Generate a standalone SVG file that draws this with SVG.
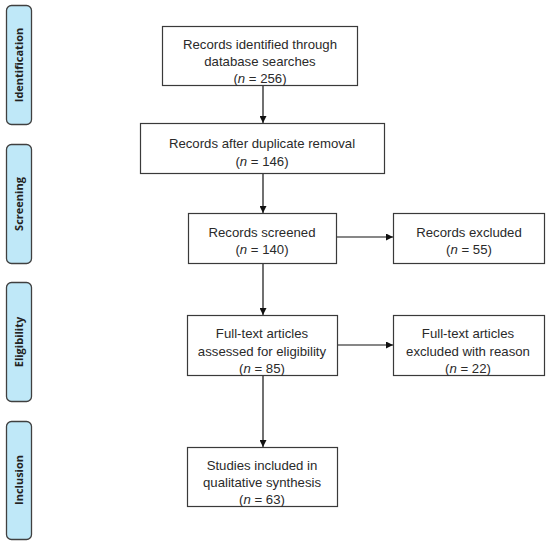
<svg xmlns="http://www.w3.org/2000/svg" width="550" height="547" viewBox="0 0 550 547">
<defs>
<style>
.box{fill:#fff;stroke:#3a3a3a;stroke-width:1.2}
.stage{fill:#bfe8f8;stroke:#404040;stroke-width:1.3}
.t{font-family:"Liberation Sans",Arial,sans-serif;font-size:13.2px;fill:#2a2a2a;text-anchor:middle}
.s{font-family:"Open Sans","Liberation Sans",sans-serif;font-size:11px;font-weight:bold;fill:#222;text-anchor:middle}
.c{fill:none;stroke:#111;stroke-width:1.2}
</style>
<marker id="ah" viewBox="0 0 10 10" refX="10" refY="5" markerWidth="7" markerHeight="7" markerUnits="userSpaceOnUse" orient="auto">
<path d="M0,0 L10,5 L0,10 z" fill="#111"/>
</marker>
</defs>
<rect width="550" height="547" fill="#fff"/>
<g id="stage-identification"><rect class="stage" x="6.5" y="5.5" width="25" height="119" rx="5"/><text class="s" transform="translate(23,65) rotate(-90)">Identification</text></g>
<g id="stage-screening"><rect class="stage" x="6.5" y="144.5" width="25" height="119" rx="5"/><text class="s" transform="translate(23,204) rotate(-90)">Screening</text></g>
<g id="stage-eligibility"><rect class="stage" x="6.5" y="282.5" width="25" height="119" rx="5"/><text class="s" transform="translate(23,342) rotate(-90)">Eligibility</text></g>
<g id="stage-inclusion"><rect class="stage" x="6.5" y="421.5" width="25" height="118" rx="5"/><text class="s" transform="translate(23,480) rotate(-90)">Inclusion</text></g>
<g id="connectors">
<line class="c" x1="263" y1="85" x2="263" y2="123" marker-end="url(#ah)"/>
<line class="c" x1="263" y1="173" x2="263" y2="213" marker-end="url(#ah)"/>
<line class="c" x1="336" y1="237" x2="393" y2="237" marker-end="url(#ah)"/>
<line class="c" x1="263" y1="263" x2="263" y2="315" marker-end="url(#ah)"/>
<line class="c" x1="337" y1="345" x2="393" y2="345" marker-end="url(#ah)"/>
<line class="c" x1="263" y1="375" x2="263" y2="447" marker-end="url(#ah)"/>
</g>
<g id="n1"><rect class="box" x="162.5" y="26.5" width="195" height="59"/><text class="t" x="260" y="48.5">Records identified through</text><text class="t" x="260" y="65.5">database searches</text><text class="t" x="260" y="83">(<tspan font-style="italic">n</tspan> = 256)</text></g>
<g id="n2"><rect class="box" x="140.5" y="123.5" width="244" height="50"/><text class="t" x="262" y="147.5">Records after duplicate removal</text><text class="t" x="262" y="165.5">(<tspan font-style="italic">n</tspan> = 146)</text></g>
<g id="n3"><rect class="box" x="188.5" y="213.5" width="148" height="50"/><text class="t" x="262" y="236.5">Records screened</text><text class="t" x="262" y="253.5">(<tspan font-style="italic">n</tspan> = 140)</text></g>
<g id="n4"><rect class="box" x="393.5" y="213.5" width="151" height="50"/><text class="t" x="469" y="236.5">Records excluded</text><text class="t" x="469" y="253.5">(<tspan font-style="italic">n</tspan> = 55)</text></g>
<g id="n5"><rect class="box" x="187.5" y="315.5" width="150" height="60"/><text class="t" x="262" y="337.5">Full-text articles</text><text class="t" x="262" y="355.5">assessed for eligibility</text><text class="t" x="262" y="373">(<tspan font-style="italic">n</tspan> = 85)</text></g>
<g id="n6"><rect class="box" x="393.5" y="315.5" width="151" height="60"/><text class="t" x="468" y="337.5">Full-text articles</text><text class="t" x="468" y="355.5">excluded with reason</text><text class="t" x="468" y="373">(<tspan font-style="italic">n</tspan> = 22)</text></g>
<g id="n7"><rect class="box" x="187.5" y="447.5" width="150" height="59"/><text class="t" x="262" y="469.5">Studies included in</text><text class="t" x="262" y="486.5">qualitative synthesis</text><text class="t" x="262" y="504">(<tspan font-style="italic">n</tspan> = 63)</text></g>
</svg>
